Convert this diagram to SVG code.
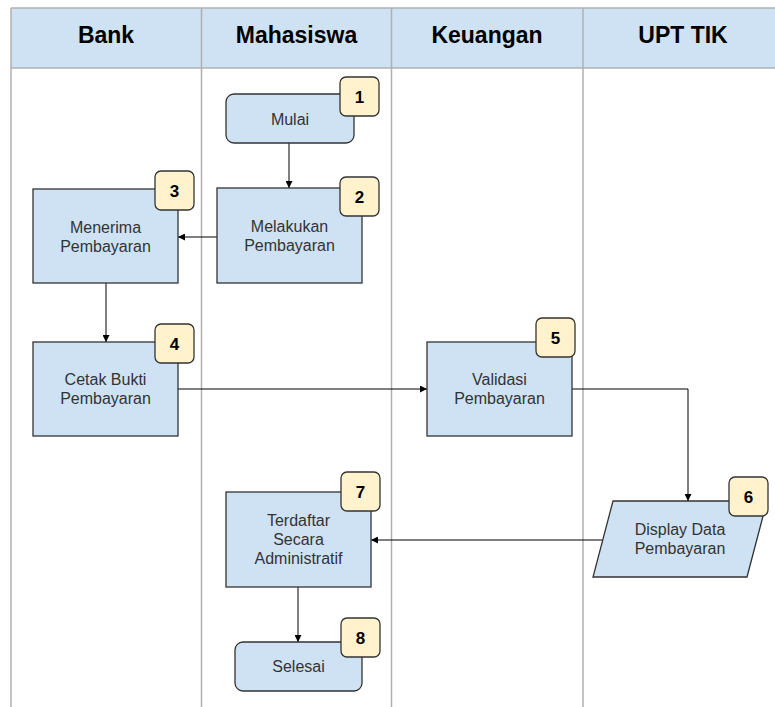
<svg xmlns="http://www.w3.org/2000/svg" width="775" height="707" viewBox="0 0 775 707">
<defs>
<style>
.grid{stroke:#b0b0b0;stroke-width:1.5;fill:none}
.hdr{fill:#cfe2f3}
.htxt{font-family:"Liberation Sans",Arial,sans-serif;font-weight:bold;font-size:23px;fill:#000;text-anchor:middle}
.box{fill:#cfe2f3;stroke:#333;stroke-width:1.3}
.txt{font-family:"Liberation Sans",Arial,sans-serif;font-size:16px;fill:#333;text-anchor:middle}
.badge{fill:#fff2cc;stroke:#333;stroke-width:1.3}
.btxt{font-family:"Liberation Sans",Arial,sans-serif;font-weight:bold;font-size:17px;fill:#000;text-anchor:middle}
.con{stroke:#000;stroke-width:1;fill:none}
</style>
<marker id="arr" viewBox="0 0 10 10" refX="10" refY="5" markerWidth="7" markerHeight="7" markerUnits="userSpaceOnUse" orient="auto">
<path d="M0,0 L10,5 L0,10 z" fill="#000"/>
</marker>
</defs>
<rect width="775" height="707" fill="#fff"/>
<g id="lanes">
<rect class="hdr" x="11" y="8" width="775" height="60"/>
<line class="grid" x1="11" y1="8" x2="775" y2="8"/>
<line class="grid" x1="11" y1="68" x2="775" y2="68"/>
<line class="grid" x1="11" y1="8" x2="11" y2="707"/>
<line class="grid" x1="201.5" y1="8" x2="201.5" y2="707"/>
<line class="grid" x1="391.5" y1="8" x2="391.5" y2="707"/>
<line class="grid" x1="583" y1="8" x2="583" y2="707"/>
<text class="htxt" x="106" y="43">Bank</text>
<text class="htxt" x="296.5" y="43">Mahasiswa</text>
<text class="htxt" x="487" y="43">Keuangan</text>
<text class="htxt" x="683" y="43">UPT TIK</text>
</g>
<g id="connectors">
<line class="con" x1="289" y1="143" x2="289" y2="188" marker-end="url(#arr)"/>
<line class="con" x1="217" y1="237" x2="178" y2="237" marker-end="url(#arr)"/>
<line class="con" x1="106" y1="283" x2="106" y2="342" marker-end="url(#arr)"/>
<line class="con" x1="178" y1="389" x2="427" y2="389" marker-end="url(#arr)"/>
<polyline class="con" points="572,389 688,389 688,501" marker-end="url(#arr)"/>
<line class="con" x1="603" y1="540" x2="371" y2="540" marker-end="url(#arr)"/>
<line class="con" x1="298" y1="587" x2="298" y2="642" marker-end="url(#arr)"/>
</g>
<g id="n1">
<rect class="box" x="226" y="94" width="128" height="49" rx="8"/>
<text class="txt" x="290" y="125">Mulai</text>
<rect class="badge" x="340" y="77" width="39" height="39" rx="6"/>
<text class="btxt" x="359.5" y="102.5">1</text>
</g>
<g id="n2">
<rect class="box" x="217" y="188" width="145" height="95"/>
<text class="txt" x="289.5" y="232">Melakukan</text>
<text class="txt" x="289.5" y="251">Pembayaran</text>
<rect class="badge" x="340" y="177" width="39" height="39" rx="6"/>
<text class="btxt" x="359.5" y="202.5">2</text>
</g>
<g id="n3">
<rect class="box" x="33" y="189" width="145" height="94"/>
<text class="txt" x="105.5" y="232.5">Menerima</text>
<text class="txt" x="105.5" y="251.5">Pembayaran</text>
<rect class="badge" x="155" y="171" width="39" height="39" rx="6"/>
<text class="btxt" x="174.5" y="196.5">3</text>
</g>
<g id="n4">
<rect class="box" x="33" y="342" width="145" height="94"/>
<text class="txt" x="105.5" y="385">Cetak Bukti</text>
<text class="txt" x="105.5" y="404">Pembayaran</text>
<rect class="badge" x="155" y="324" width="39" height="39" rx="6"/>
<text class="btxt" x="174.5" y="349.5">4</text>
</g>
<g id="n5">
<rect class="box" x="427" y="342" width="145" height="94"/>
<text class="txt" x="499.5" y="385">Validasi</text>
<text class="txt" x="499.5" y="404">Pembayaran</text>
<rect class="badge" x="536" y="318" width="39" height="39" rx="6"/>
<text class="btxt" x="555.5" y="343.5">5</text>
</g>
<g id="n6">
<polygon class="box" points="613,501 767,501 747,577 593,577"/>
<text class="txt" x="680" y="535">Display Data</text>
<text class="txt" x="680" y="554">Pembayaran</text>
<rect class="badge" x="729" y="477" width="39" height="39" rx="6"/>
<text class="btxt" x="748.5" y="502.5">6</text>
</g>
<g id="n7">
<rect class="box" x="226" y="492" width="145" height="95"/>
<text class="txt" x="298.5" y="526">Terdaftar</text>
<text class="txt" x="298.5" y="545">Secara</text>
<text class="txt" x="298.5" y="564">Administratif</text>
<rect class="badge" x="341" y="472" width="39" height="39" rx="6"/>
<text class="btxt" x="360.5" y="497.5">7</text>
</g>
<g id="n8">
<rect class="box" x="235" y="642" width="127" height="49" rx="8"/>
<text class="txt" x="298.5" y="672">Selesai</text>
<rect class="badge" x="341" y="618" width="39" height="39" rx="6"/>
<text class="btxt" x="360.5" y="643.5">8</text>
</g>
</svg>
